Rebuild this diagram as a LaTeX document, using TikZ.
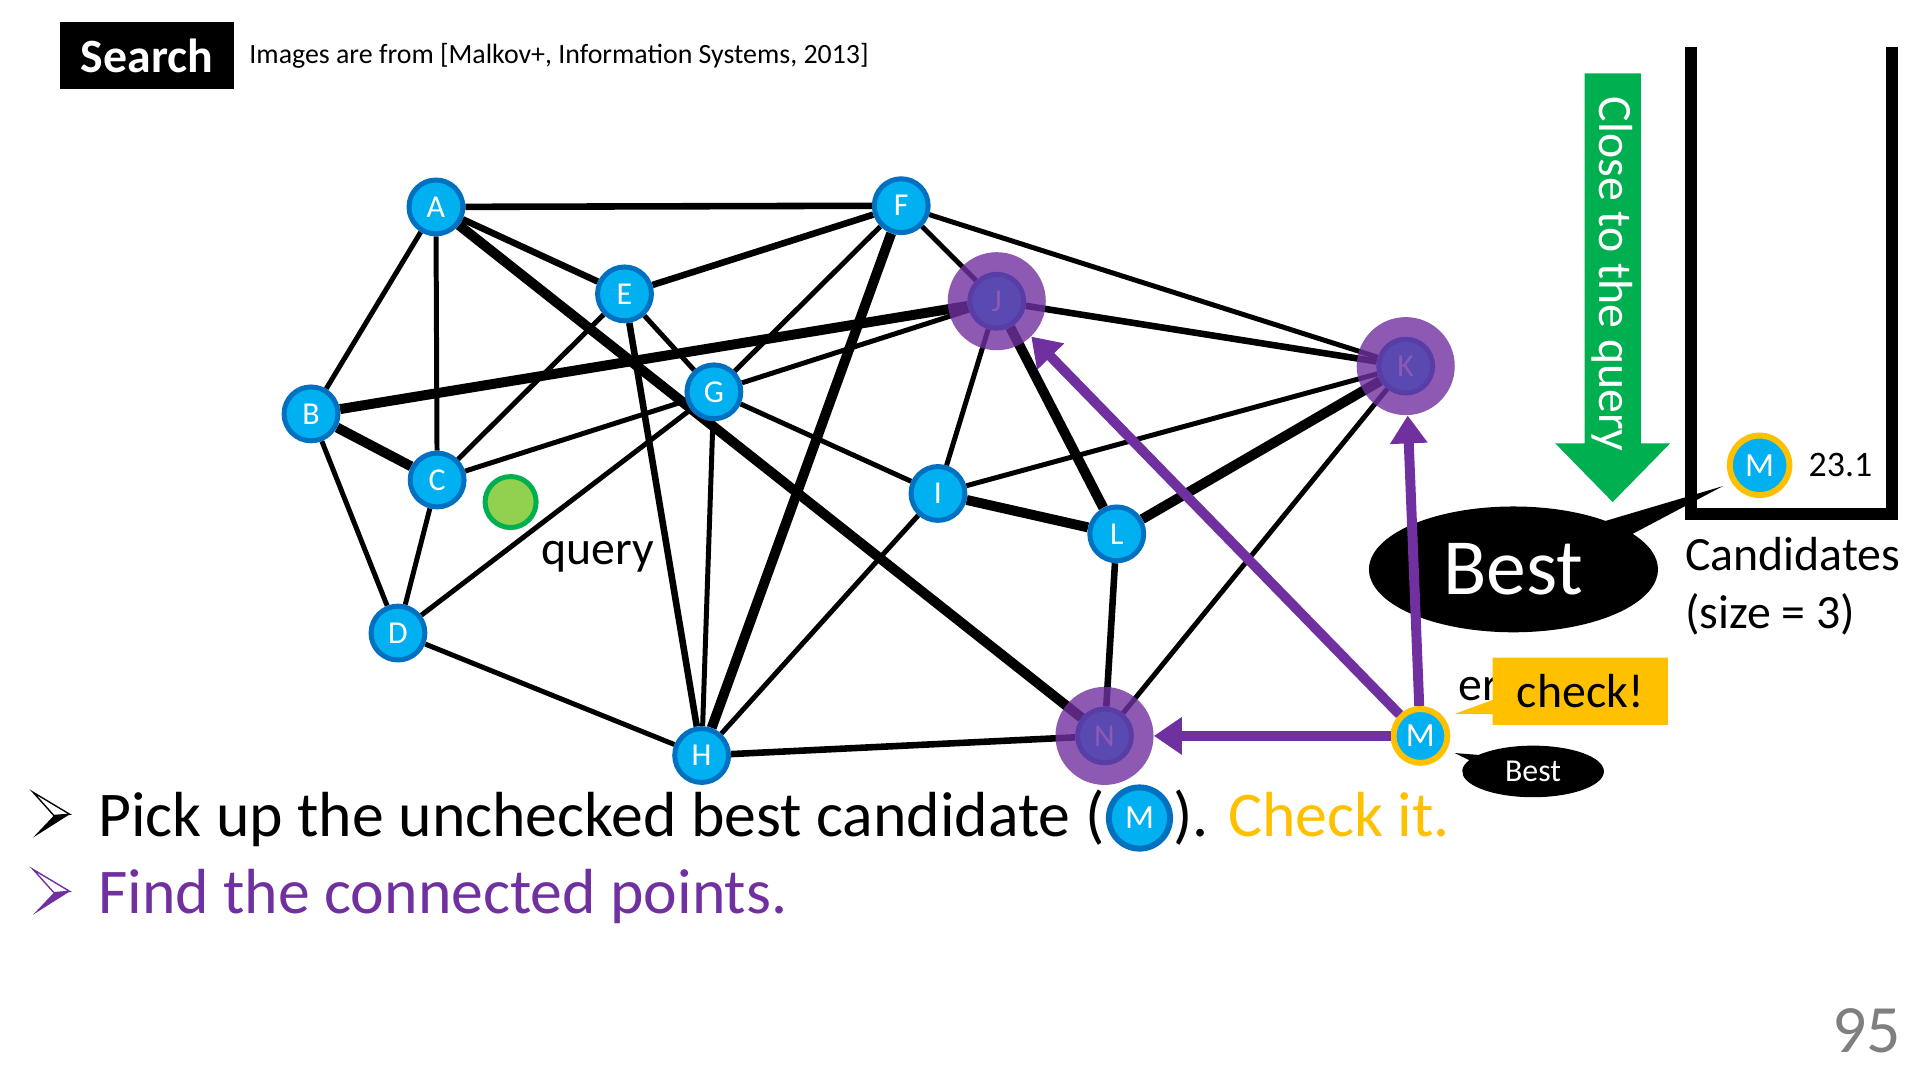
\documentclass[tikz,border=0pt]{standalone}
\usepackage{fontspec}
\setmainfont{Carlito}
\usetikzlibrary{arrows.meta,positioning,backgrounds,shapes.geometric,shapes.callouts}

\definecolor{nblue}{HTML}{00B0F0}
\definecolor{nborder}{HTML}{0070C0}
\definecolor{pviolet}{HTML}{7030A0}
\definecolor{ckyellow}{HTML}{FFC000}
\definecolor{qgreen}{HTML}{92D050}
\definecolor{qborder}{HTML}{00B050}
\definecolor{agreen}{HTML}{00B050}
\definecolor{pgray}{HTML}{7F7F7F}

\newcommand{\fsz}[1]{\fontsize{#1pt}{#1pt}\selectfont}

\begin{document}
\begin{tikzpicture}[x=0.0216cm, y=-0.0216cm,
  vtx/.style={circle, fill=nblue, draw=nborder, line width=2.5pt, minimum size=0.95cm,
    inner sep=0pt, text=white, font=\fsz{16}},
  mvtx/.style={vtx, draw=ckyellow, line width=3pt, font=\fsz{17}},
  qdot/.style={circle, fill=qgreen, draw=qborder, line width=2.5pt, minimum size=0.9cm, inner sep=0pt},
  halo/.style={circle, fill=pviolet, fill opacity=0.8, minimum size=1.73cm, inner sep=0pt},
  thinE/.style={line width=2.5pt},
  midE/.style={line width=3.3pt},
  thickE/.style={line width=5pt},
  parrow/.style={draw=pviolet, line width=5pt, -{Triangle[length=14pt,width=18pt]}},
  lbl/.style={inner sep=0pt, font=\fsz{24}}]
\useasboundingbox (0,0) rectangle (1568,882);

% title and source
\node[fill=black, text=white, font=\fsz{24}\bfseries, minimum width=3.07cm, minimum height=1.19cm] (title) at (120,45.5) {Search};
\node[right=0.26cm of title, inner sep=0pt, font=\fsz{14}] (credit) {Images are from [Malkov+, Information Systems, 2013]};

% green arrow
\fill[agreen] (1294,60) -- (1340,60) -- (1340,362) -- (1364,362) -- (1317,410)
  -- (1270,362) -- (1294,362) -- cycle;
\node[rotate=-90, text=white, font=\fsz{24}] (closeTxt) at (1317,224) {Close to the query};

% candidate list
\draw[line width=6pt] (1381,38) -- (1381,420) -- (1545,420) -- (1545,38);
\coordinate (bestTip) at (1407,397);
\node[ellipse callout, fill=black, text=white, font=\fsz{40}, minimum width=5.1cm, minimum height=2.22cm,
  inner sep=0pt, callout absolute pointer={(bestTip)}, callout pointer arc=16] (bigBest) at (1236,465) {Best};
\node[mvtx, minimum size=1.05cm] (mBox) at (1437,380) {M};
\node[lbl, font=\fsz{18}] (dist) at (1503,380) {23.1};
\node[lbl, anchor=base west] (candTxt) at (1376,466) {Candidates};
\node[lbl, anchor=base west] (sizeTxt) at (1376,513) {(size = 3)};

% graph
\foreach \n/\x/\y in {A/356/169, F/736/168, E/510/240, J/814/246, B/254/338, G/583/320,
  K/1148/299, C/357/392, I/766/403, L/912/436, D/325/517, H/573/617, N/902/601}
  \node[vtx] (\n) at (\x,\y) {\n};
\node[mvtx] (M) at (1160,601) {M};
\node[qdot] (query) at (417,410) {};
\node[lbl] (qlabel) at (488,455) {query};

\begin{pgfonlayer}{background}
\foreach \a/\b in {A/B, A/C, F/G, F/J, F/K, E/C, E/G, B/D, C/G, C/D, D/G, D/H,
  G/J, G/H, G/I, J/I, I/K, I/H, K/N}
  \draw[thinE] (\a) -- (\b);
\foreach \a/\b in {A/F, A/E, F/E, E/H, J/K, L/N, H/N}
  \draw[midE] (\a) -- (\b);
\foreach \a/\b in {A/N, F/H, B/J, B/C, J/L, I/L, L/K}
  \draw[thickE] (\a) -- (\b);
\end{pgfonlayer}

\foreach \n in {J,K,N}
  \node[halo] (h\n) at (\n) {};

% checking M
\node[lbl, anchor=base west] (erTxt) at (1191,572) {er};
\coordinate (checkTip) at (1188,583);
\node[rectangle callout, fill=ckyellow, font=\fsz{24}, minimum width=3.09cm, minimum height=1.19cm,
  inner sep=0pt, callout absolute pointer={(checkTip)}, callout pointer width=0.25cm] (checkBox) at (1290.5,564.5) {check!};
\coordinate (smallTip) at (1188,615);
\node[ellipse callout, fill=black, text=white, font=\fsz{16}, minimum width=2.5cm, minimum height=0.91cm,
  inner sep=0pt, callout absolute pointer={(smallTip)}, callout pointer arc=14] (smallBest) at (1252,630) {Best};

\draw[parrow] (M) -- (hN);
\draw[parrow] (M) -- (hJ);
\draw[parrow] (M) -- (hK);

% bullets
\foreach \yc/\col in {665/black, 728/pviolet} {
  \draw[\col, line width=0.7pt, line join=miter] (27,\yc-18) -- (57,\yc) -- (44,\yc+1) -- cycle;
  \fill[\col] (57,\yc) -- (44,\yc+1) -- (27,\yc+19) -- cycle;
}
\node[inner sep=0pt, anchor=base west, font=\fsz{32}] (pick) at (80,683.5) {Pick up the unchecked best candidate (};
\node[vtx, minimum size=1.08cm, line width=3pt, font=\fsz{17}, anchor=west, xshift=0.5pt, yshift=9.5pt] (mIcon) at (pick.base east) {M};
\node[inner sep=0pt, anchor=base west, font=\fsz{32}] (pickEnd) at (pick.base -| mIcon.east) {). \textcolor{ckyellow}{Check it.}};
\node[inner sep=0pt, anchor=base west, font=\fsz{32}, text=pviolet] (find) at (80,746) {Find the connected points.};

% page number
\node[inner sep=0pt, anchor=east, font=\fsz{34}, text=pgray] (page) at (1553,842) {95};
\end{tikzpicture}
\end{document}
